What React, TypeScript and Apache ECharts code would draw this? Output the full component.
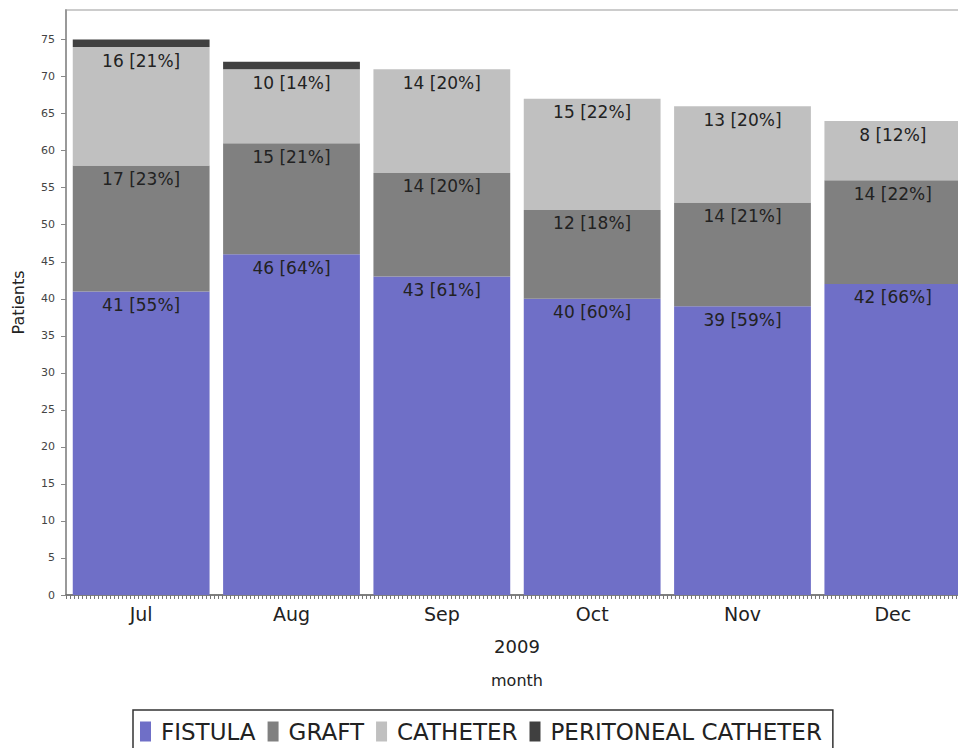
import React, { useEffect, useRef } from "react";
import * as echarts from "echarts";

const months = ["Jul", "Aug", "Sep", "Oct", "Nov", "Dec"];
const fistula = [41, 46, 43, 40, 39, 42];
const graft = [17, 15, 14, 12, 14, 14];
const catheter = [16, 10, 14, 15, 13, 8];
const peritoneal = [1, 1, 0, 0, 0, 0];
const yTicks = { min: 0, max: 79, interval: 5 };
const yearLabel = "2009";
const xName = "month";
const yName = "Patients";

const totals = months.map((_, i) => fistula[i] + graft[i] + catheter[i] + peritoneal[i]);

function roundHalfEven(x: number): number {
  const f = Math.floor(x);
  const d = x - f;
  if (Math.abs(d - 0.5) < 1e-9) return f % 2 === 0 ? f : f + 1;
  return Math.round(x);
}

const FONT = "DejaVu Sans";

export default function App() {
  const ref = useRef<HTMLDivElement>(null);
  useEffect(() => {
    if (!ref.current) return;
    const chart = echarts.init(ref.current, null, { renderer: "svg" });
    const labelFmt = (p: any) => {
      const v = p.value as number;
      if (!v) return "";
      const pct = roundHalfEven((v / totals[p.dataIndex]) * 100);
      return `${v} [${pct}%]`;
    };
    const mk = (name: string, data: number[], color: string, showLabel: boolean) => ({
      name,
      type: "bar",
      stack: "all",
      data,
      barCategoryGap: "9%",
      itemStyle: { color },
      label: {
        show: showLabel,
        position: "insideTop",
        distance: 5,
        formatter: labelFmt,
        color: "#222",
        fontSize: 17,
        fontFamily: FONT,
      },
    });
    chart.setOption({
      animation: false,
      textStyle: { fontFamily: FONT },
      grid: {
        left: 66,
        right: 12,
        top: 10,
        bottom: 153,
        outerBoundsMode: "none",
        show: true,
        borderColor: "#cccccc",
        borderWidth: 2,
        backgroundColor: "transparent",
      },
      legend: {
        left: 133,
        top: 710,
        itemWidth: 11,
        itemHeight: 20,
        itemGap: 12,
        padding: [10, 11, 20, 7],
        borderColor: "#333",
        borderWidth: 1.5,
        icon: "rect",
        textStyle: { fontSize: 23, color: "#222", fontFamily: FONT, padding: [0, 0, 0, 5] },
        data: ["FISTULA", "GRAFT", "CATHETER", "PERITONEAL CATHETER"],
      },
      xAxis: [
        {
          type: "category",
          data: months,
          position: "bottom",
          name: yearLabel,
          nameLocation: "middle",
          nameGap: 42,
          nameTextStyle: { fontSize: 18, color: "#222", fontFamily: FONT },
          axisLine: { lineStyle: { color: "#666", width: 1.5 } },
          axisTick: { length: 31, lineStyle: { color: "#cccccc", width: 1.5 } },
          axisLabel: { fontSize: 19, color: "#222", margin: 9, fontFamily: FONT },
        },
        {
          type: "value",
          position: "bottom",
          min: 0,
          max: 900,
          interval: 4,
          name: xName,
          nameLocation: "middle",
          nameGap: 77,
          nameTextStyle: { fontSize: 16, color: "#222", fontFamily: FONT },
          axisLine: { show: false },
          axisLabel: { show: false },
          splitLine: { show: false },
          axisTick: { show: true, length: 4, lineStyle: { color: "#777", width: 1 } },
        },
      ],
      yAxis: {
        type: "value",
        min: yTicks.min,
        max: yTicks.max,
        interval: yTicks.interval,
        name: yName,
        nameLocation: "middle",
        nameGap: 40,
        nameTextStyle: { fontSize: 16, color: "#222", fontFamily: FONT },
        axisLine: { show: true, lineStyle: { color: "#888", width: 1.5 } },
        axisTick: { show: true, length: 5, lineStyle: { color: "#888" } },
        axisLabel: { fontSize: 11, color: "#444", margin: 11, showMaxLabel: false, fontFamily: FONT },
        splitLine: { show: false },
      },
      series: [
        mk("FISTULA", fistula, "#6f6fc7", true),
        mk("GRAFT", graft, "#808080", true),
        mk("CATHETER", catheter, "#c0c0c0", true),
        mk("PERITONEAL CATHETER", peritoneal, "#404040", false),
      ],
    });
    return () => chart.dispose();
  }, []);
  return (
    <div style={{ position: "fixed", left: 0, top: 0, width: 958, height: 748, overflow: "hidden", background: "#fff" }}>
      <div ref={ref} style={{ width: 980, height: 748 }} />
    </div>
  );
}
